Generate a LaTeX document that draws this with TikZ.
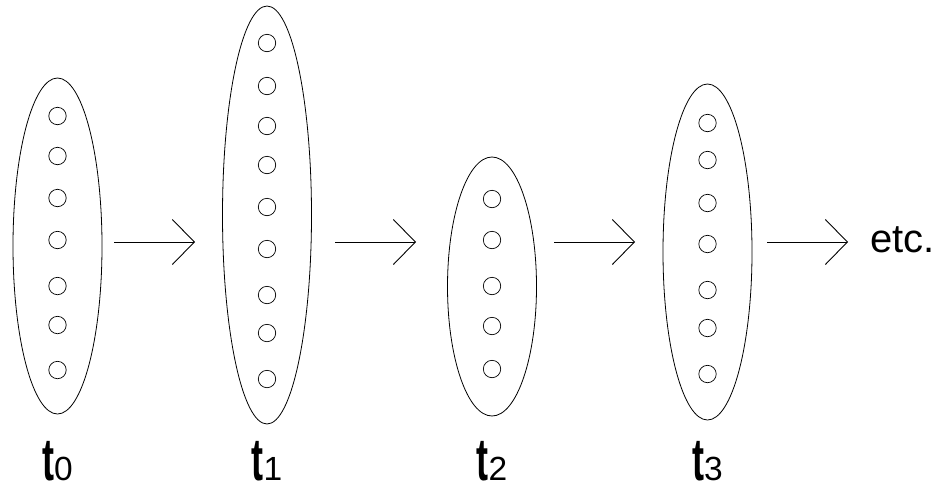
\documentclass[tikz,border=0pt]{standalone}
\usepackage{graphicx}
\usepackage{fontspec}
\setmainfont{Liberation Sans}
\usetikzlibrary{shapes.geometric,arrows.meta}
\tikzset{
 grp/.style={ellipse, draw, line width=0.8pt, inner sep=0pt, minimum width=89pt},
 dot/.style={circle, draw, line width=0.7pt, inner sep=0pt, minimum size=17.4pt},
 flow/.style={line width=0.9pt, -{Straight Barb[length=22pt,width=45pt,line width=0.9pt]}},
 lbl/.style={anchor=base, inner sep=0pt},
}
\newcommand{\tlab}[1]{{\fontsize{60}{62}\selectfont\bfseries\scalebox{0.6}[1]{t}}{\fontsize{33.5}{36}\selectfont #1}}
\begin{document}
\begin{tikzpicture}[x=1pt,y=-1pt]
\useasboundingbox (0,0) rectangle (949,488);
% groups
\node[grp, minimum height=336pt] (g0) at (57.5,246) {};
\node[grp, minimum height=418pt] (g1) at (267,215) {};
\node[grp, minimum height=259pt] (g2) at (492,286.5) {};
\node[grp, minimum height=336pt] (g3) at (707.5,252) {};
% dots
\foreach \y [count=\i] in {116,156,198,240,286,325,370} \node[dot] (d0-\i) at (57.5,\y) {};
\foreach \y [count=\i] in {43,86,126,165,207,249,295,333,379} \node[dot] (d1-\i) at (267,\y) {};
\foreach \y [count=\i] in {199,240,286,326,369} \node[dot] (d2-\i) at (492,\y) {};
\foreach \y [count=\i] in {123,160,203,244,290,328,374} \node[dot] (d3-\i) at (707.5,\y) {};
% arrows
\coordinate (a0s) at (114,242); \coordinate (a0e) at (195,242);
\coordinate (a1s) at (335,242); \coordinate (a1e) at (416,242);
\coordinate (a2s) at (554,242); \coordinate (a2e) at (635,242);
\coordinate (a3s) at (767,242); \coordinate (a3e) at (848,242);
\draw[flow] (a0s) -- (a0e);
\draw[flow] (a1s) -- (a1e);
\draw[flow] (a2s) -- (a2e);
\draw[flow] (a3s) -- (a3e);
\node[anchor=base west, inner sep=0pt, font=\fontsize{40}{44}\selectfont] (etc) at (870,252) {etc.};
% labels
\node[lbl] (l0) at (57.5,480) {\tlab{0}};
\node[lbl] (l1) at (267,480) {\tlab{1}};
\node[lbl] (l2) at (492,480) {\tlab{2}};
\node[lbl] (l3) at (707.5,480) {\tlab{3}};
\end{tikzpicture}
\end{document}
